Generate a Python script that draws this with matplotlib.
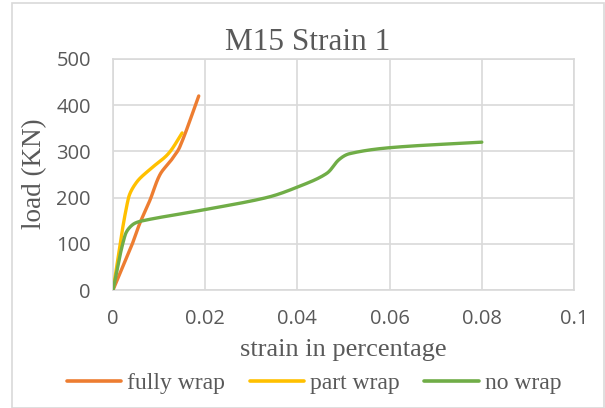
import numpy as np
import matplotlib
matplotlib.use('Agg')
import matplotlib.pyplot as plt
from matplotlib.patches import Rectangle

# strain (%) vs load (KN) readings
full_strain = [0, 0.004, 0.0058, 0.008, 0.0102, 0.0127, 0.0145, 0.0186]
full_load = [0, 95, 144, 194, 250, 282, 310, 420]

part_strain = [0, 0.0033, 0.0051, 0.008, 0.012, 0.015]
part_load = [0, 197, 233, 261, 295, 340]

none_strain = [0, 0.0026, 0.0042, 0.0065, 0.0188, 0.0333, 0.0398, 0.0463, 0.0490, 0.0513, 0.060, 0.080]
none_load = [0, 118, 141, 150, 172, 200, 222, 252, 282, 295, 308, 320]

x_ticks = [0, 0.02, 0.04, 0.06, 0.08, 0.1]
x_tick_labels = ['0', '0.02', '0.04', '0.06', '0.08', '0.1']
y_ticks = [0, 100, 200, 300, 400, 500]

GREY = '#595959'
GRID = '#d9d9d9'
XMAX, YMAX = 0.1, 500
W_PX, H_PX = 461, 231   # plot area size, used so smoothing happens in screen space


def smooth(xs, ys, n=40):
    """Bezier smoothing through the points; handle length tied to segment length so no loops."""
    p = np.column_stack([np.array(xs) / XMAX * W_PX, np.array(ys) / YMAX * H_PX])
    m = len(p)
    tang = []
    for i in range(m):
        d = p[min(i + 1, m - 1)] - p[max(i - 1, 0)]
        tang.append(d / np.linalg.norm(d))
    out = [p[0]]
    for i in range(m - 1):
        L = np.linalg.norm(p[i + 1] - p[i]) / 3
        c1 = p[i] + tang[i] * L
        c2 = p[i + 1] - tang[i + 1] * L
        t = np.linspace(0, 1, n)[1:, None]
        seg = ((1 - t) ** 3) * p[i] + 3 * ((1 - t) ** 2) * t * c1 + 3 * (1 - t) * t ** 2 * c2 + t ** 3 * p[i + 1]
        out.extend(seg)
    out = np.array(out)
    return out[:, 0] / W_PX * XMAX, out[:, 1] / H_PX * YMAX


fig = plt.figure(figsize=(6.05, 4.08), dpi=100)
ax = fig.add_axes([113 / 605, 1 - 290 / 408, 461 / 605, 231 / 408])

# light border round the whole chart
fig.patches.append(Rectangle((12 / 605, 0.5 / 408), 592 / 605, 405 / 408, transform=fig.transFigure,
                             fill=False, edgecolor=GRID, linewidth=1.2))

series = [
    (full_strain, full_load, '#ED7D31', 'fully wrap'),
    (part_strain, part_load, '#FFC000', 'part wrap'),
    (none_strain, none_load, '#70AD47', 'no wrap'),
]
for xs, ys, col, name in series:
    sx, sy = smooth(xs, ys)
    ax.plot(sx, sy, color=col, linewidth=2.4, label=name, solid_capstyle='round', zorder=3)

ax.set_xlim(0, XMAX)
ax.set_ylim(0, YMAX)
ax.set_xticks(x_ticks)
ax.set_xticklabels(x_tick_labels)
ax.set_yticks(y_ticks)
ax.grid(True, color=GRID, linewidth=1.2)
ax.set_axisbelow(True)
for s in ax.spines.values():
    s.set_color(GRID)
    s.set_linewidth(1.2)
ax.tick_params(length=0, labelcolor=GREY, labelsize=14.5)
ax.tick_params(axis='y', pad=16)
ax.tick_params(axis='x', pad=14)
for lab in ax.get_xticklabels() + ax.get_yticklabels():
    lab.set_family('Open Sans')

serif = 'Liberation Serif'
fig.text(308 / 605, 1 - 43 / 408, 'M15 Strain 1', ha='center', va='center',
         family=serif, fontsize=22.5, color=GREY)
fig.text(343 / 605, 1 - 350 / 408, 'strain in percentage', ha='center', va='center',
         family=serif, fontsize=19, color=GREY)
fig.text(35 / 605, 1 - 174 / 408, 'load (KN)', ha='center', va='center', rotation=90,
         family=serif, fontsize=19.5, color=GREY)

leg = fig.legend(loc='center', bbox_to_anchor=(314 / 605, 1 - 383 / 408), ncol=3, frameon=False,
                 prop={'family': serif, 'size': 17}, handlelength=2.3, handletextpad=0.25,
                 columnspacing=1.05, borderpad=0)
for t in leg.get_texts():
    t.set_color(GREY)
for h in leg.get_lines():
    h.set_linewidth(2.6)

fig.savefig('out.png', dpi=100)
